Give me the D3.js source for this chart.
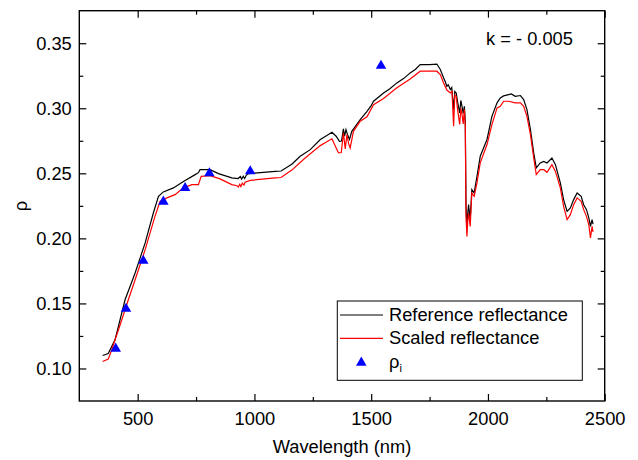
<!DOCTYPE html>
<html>
<head>
<meta charset="utf-8">
<script src="https://cdn.jsdelivr.net/npm/d3@7"></script>
<style>
  body { margin: 0; background: #fff; }
  text { font-family: "Liberation Sans", Arial, sans-serif; }
</style>
</head>
<body>
<svg id="chart" width="638" height="460"></svg>
<script>
// reference reflectance (black)
var refWl = [350,374,403,446,489,532,567,589,610,653,696,746,760,767,810,846,903,930,940,945,952,958,965,974,1000,1089,1114,
  1160,1196,1239,1282,1310,1332,1350,1364,1373,1381,1386,1392,1400,1407,1417,1440,1453,1482,1500,1510,1553,1580,1610,1640,1667,
  1690,1710,1750,1781,1796,1810,1818,1824,1830,1839,1845,1853,1858,1864,1870,1879,1884,1889,1894,1899,1903,1906,1910,1914,1917,
  1924,1931,1941,1953,1967,1996,2017,2039,2053,2067,2089,2100,2117,2139,2153,2167,2182,2196,2207,2224,2239,2253,2274,2289,2310,
  2324,2339,2353,2367,2382,2399,2410,2422,2432,2439,2446,2450];
var refVals = [0.1100,0.1115,0.1220,0.1528,0.1734,0.1965,0.2195,0.2323,0.2357,0.2388,0.2438,0.2490,0.2505,0.2528,0.2528,0.2498,
  0.2465,0.2460,0.2475,0.2455,0.2478,0.2460,0.2485,0.2498,0.2502,0.2515,0.2518,0.2570,0.2631,0.2682,0.2760,0.2790,0.2815,0.2785,
  0.2746,0.2748,0.2842,0.2785,0.2836,0.2790,0.2760,0.2823,0.2880,0.2913,0.2977,0.3020,0.3054,0.3118,0.3150,0.3195,0.3230,0.3272,
  0.3300,0.3336,0.3336,0.3340,0.3298,0.3234,0.3200,0.3169,0.3180,0.3144,0.3160,0.2990,0.3130,0.3118,0.3050,0.2964,0.3060,0.3015,
  0.2960,0.3015,0.2900,0.2246,0.2092,0.2200,0.2259,0.2144,0.2375,0.2349,0.2477,0.2631,0.2760,0.2938,0.3042,0.3080,0.3095,0.3105,
  0.3110,0.3092,0.3098,0.3067,0.2990,0.2836,0.2657,0.2542,0.2580,0.2592,0.2580,0.2618,0.2567,0.2426,0.2298,0.2208,0.2234,0.2298,
  0.2349,0.2323,0.2259,0.2221,0.2157,0.2092,0.2144,0.2110];

// scaled reflectance (red)
var scaledWl = [350,374,389,432,460,489,532,574,596,625,660,696,732,760,772,810,853,903,925,931,937,942,948,955,960,982,1089,1114,
  1160,1217,1282,1310,1332,1350,1360,1372,1381,1389,1396,1403,1410,1424,1453,1482,1510,1553,1610,1667,1710,1781,1796,1810,1824,
  1839,1846,1853,1858,1864,1870,1879,1884,1889,1894,1899,1903,1906,1910,1914,1917,1924,1931,1941,1953,1967,1996,2017,2039,2053,
  2067,2089,2117,2139,2153,2167,2182,2196,2207,2224,2239,2253,2274,2289,2310,2324,2339,2353,2367,2382,2399,2410,2422,2432,2439,
  2446,2450];
var scaledVals = [0.1054,0.1072,0.1144,0.1375,0.1528,0.1682,0.1913,0.2169,0.2285,0.2311,0.2336,0.2388,0.2413,0.2413,0.2477,0.2482,
  0.2457,0.2413,0.2405,0.2395,0.2415,0.2398,0.2425,0.2410,0.2431,0.2446,0.2465,0.2468,0.2525,0.2618,0.2713,0.2742,0.2765,0.2695,
  0.2658,0.2660,0.2811,0.2688,0.2798,0.2730,0.2695,0.2823,0.2900,0.2935,0.3028,0.3075,0.3157,0.3225,0.3285,0.3285,0.3259,0.3195,
  0.3140,0.3118,0.3130,0.2862,0.3100,0.3092,0.2990,0.2875,0.3000,0.2952,0.2880,0.2990,0.2862,0.2169,0.2015,0.2150,0.2195,0.2092,
  0.2349,0.2323,0.2426,0.2580,0.2721,0.2875,0.3003,0.3015,0.3054,0.3054,0.3042,0.3042,0.3015,0.2938,0.2798,0.2618,0.2490,0.2528,
  0.2528,0.2508,0.2567,0.2515,0.2388,0.2246,0.2144,0.2182,0.2259,0.2311,0.2285,0.2221,0.2169,0.2105,0.2003,0.2092,0.2050];

// rho_i points (blue triangles)
var bandWl = [406,450,524,610,703,807,982,1542];
var bandRho = [0.116,0.1467,0.1836,0.229,0.2395,0.2508,0.2523,0.3334];

var xTicks = [500,1000,1500,2000,2500];
var xMinor = [750,1250,1750,2250];
var yTicks = [0.10,0.15,0.20,0.25,0.30,0.35];
var yMinor = [0.125,0.175,0.225,0.275,0.325];
var legendNames = ['Reference reflectance','Scaled reflectance'];

var svg = d3.select('#chart');
var L = 79.3, R = 604.7, T = 10.7, B = 401;
var x = d3.scaleLinear().domain([250,2500]).range([L,R]);
var y = d3.scaleLinear().domain([0.075,0.375]).range([B,T]);

var fs = '18.3px';

// ticks on all four sides, pointing inward
function addAxis(gen, tx, ty, labels) {
  var g = svg.append('g').attr('transform','translate('+tx+','+ty+')').call(gen);
  g.select('.domain').remove();
  g.selectAll('line').attr('stroke','#000').attr('stroke-width',1.2);
  if (!labels) g.selectAll('text').remove();
  else g.selectAll('text').attr('font-size',fs).attr('fill','#000').attr('font-family','"Liberation Sans", Arial, sans-serif');
  return g;
}
addAxis(d3.axisBottom(x).tickValues(xTicks).tickSize(-7).tickPadding(11).tickFormat(d3.format('d')), 0, B, true);
addAxis(d3.axisBottom(x).tickValues(xMinor).tickSize(-4), 0, B, false);
addAxis(d3.axisTop(x).tickValues(xTicks).tickSize(-7), 0, T, false);
addAxis(d3.axisTop(x).tickValues(xMinor).tickSize(-4), 0, T, false);
addAxis(d3.axisLeft(y).tickValues(yTicks).tickSize(-7).tickPadding(7.5).tickFormat(d3.format('.2f')), L, 0, true);
addAxis(d3.axisLeft(y).tickValues(yMinor).tickSize(-4), L, 0, false);
addAxis(d3.axisRight(y).tickValues(yTicks).tickSize(-7), R, 0, false);
addAxis(d3.axisRight(y).tickValues(yMinor).tickSize(-4), R, 0, false);

// curves
var line = d3.line().x(function(d){ return x(d[0]); }).y(function(d){ return y(d[1]); });
svg.append('path').datum(d3.zip(refWl, refVals)).attr('d', line)
  .attr('fill','none').attr('stroke','#000').attr('stroke-width',1.2);
svg.append('path').datum(d3.zip(scaledWl, scaledVals)).attr('d', line)
  .attr('fill','none').attr('stroke','#ff0000').attr('stroke-width',1.2);

var tri = d3.symbol().type(d3.symbolTriangle).size(48);
svg.selectAll('.band').data(d3.zip(bandWl, bandRho)).enter().append('path')
  .attr('class','band').attr('d', tri)
  .attr('transform', function(d){ return 'translate('+x(d[0])+','+(y(d[1])+1)+')'; })
  .attr('fill','#0000ff');

// frame
svg.append('rect').attr('x',L).attr('y',T).attr('width',R-L).attr('height',B-T)
  .attr('fill','none').attr('stroke','#000').attr('stroke-width',1.4);

// annotation
svg.append('text').attr('x',486).attr('y',45).attr('font-size',fs).text('k = - 0.005');

// axis titles
svg.append('text').attr('x',(L+R)/2).attr('y',453).attr('text-anchor','middle').attr('font-size',fs).text('Wavelength (nm)');
svg.append('text').attr('transform','translate(27,206) rotate(-90)').attr('text-anchor','middle')
  .attr('font-size',fs).text('ρ');

// legend
var lg = svg.append('g');
lg.append('rect').attr('x',337.3).attr('y',301).attr('width',245).attr('height',79.3)
  .attr('fill','#fff').attr('stroke','#000').attr('stroke-width',1);
var rows = [315, 338.3, 361.7];
lg.append('line').attr('x1',340).attr('x2',383).attr('y1',rows[0]).attr('y2',rows[0]).attr('stroke','#000').attr('stroke-width',1);
lg.append('line').attr('x1',340).attr('x2',383).attr('y1',rows[1]).attr('y2',rows[1]).attr('stroke','#ff0000').attr('stroke-width',1.2);
lg.append('path').attr('d', tri).attr('transform','translate(361.3,'+(rows[2]+1)+')').attr('fill','#0000ff');
lg.append('text').attr('x',389).attr('y',rows[0]+6).attr('font-size',fs).text(legendNames[0]);
lg.append('text').attr('x',389).attr('y',rows[1]+6).attr('font-size',fs).text(legendNames[1]);
var rt = lg.append('text').attr('x',389).attr('y',rows[2]+6).attr('font-size',fs);
rt.append('tspan').text('ρ');
rt.append('tspan').attr('font-size','11px').attr('dy',4).text('i');
</script>
</body>
</html>
